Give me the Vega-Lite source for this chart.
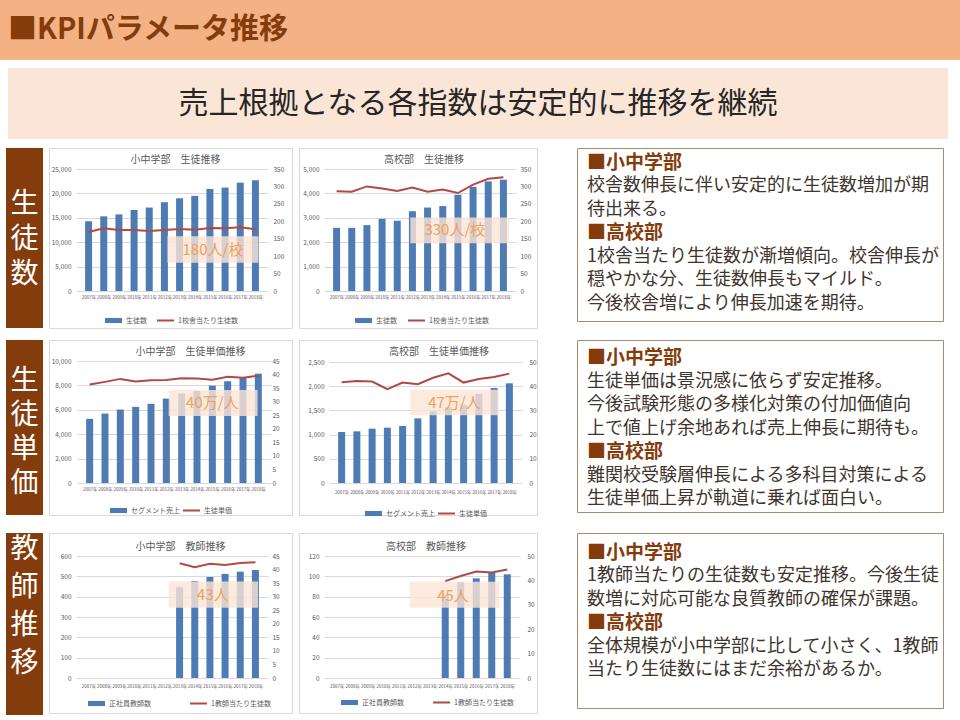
{
  "$schema": "https://vega.github.io/schema/vega-lite/v6.json",
  "padding": 0,
  "background": "white",
  "config": {
    "font": "Noto Sans CJK JP",
    "view": {"stroke": null},
    "axis": {"domain": false, "ticks": false, "labelColor": "#595959", "labelFontSize": 6.5, "labelPadding": 2, "gridColor": "#D9D9D9", "gridWidth": 1, "labelOverlap": false},
    "axisX": {"labelFontSize": 4.5, "labelPadding": 1, "labelOverlap": false, "labelFlush": false},
    "legend": {"padding": 0, "labelFontSize": 7, "labelColor": "#595959", "labelOffset": 3, "symbolSize": 289},
    "title": {"fontSize": 10, "fontWeight": "normal", "color": "#595959", "frame": "group", "baseline": "bottom", "anchor": "middle"}
  },
  "spacing": 10,
  "resolve": {"scale": {"fill": "independent", "stroke": "independent"}, "legend": {"fill": "independent", "stroke": "independent"}},
  "vconcat": [
    {
      "spacing": 8,
      "resolve": {"scale": {"fill": "independent", "stroke": "independent"}, "legend": {"fill": "independent", "stroke": "independent"}},
      "vconcat": [
        {
          "width": 960, "height": 60,
          "view": {"fill": "#F4B183", "stroke": null},
          "data": {"values": [{"t": "■KPIパラメータ推移"}]},
          "mark": {"type": "text", "align": "left", "baseline": "middle", "dx": 8, "fontSize": 29, "fontWeight": "bold", "color": "#843C0C"},
          "encoding": {"x": {"datum": 0, "type": "quantitative", "scale": {"domain": [0, 1]}, "axis": null}, "text": {"field": "t"}}
        },
        {
          "spacing": 7,
          "hconcat": [
            {"width": 1, "height": 1, "data": {"values": [{}]}, "mark": {"type": "point", "size": 0, "opacity": 0, "strokeWidth": 0}, "encoding": {}},
            {
              "width": 940, "height": 71,
              "view": {"fill": "#FBE5D6", "stroke": null},
              "data": {"values": [{"t": "売上根拠となる各指数は安定的に推移を継続"}]},
              "mark": {"type": "text", "fontSize": 30, "color": "#262626", "align": "center", "baseline": "middle"},
              "encoding": {"text": {"field": "t"}}
            }
          ]
        },
        {
          "spacing": 38,
          "resolve": {"scale": {"fill": "independent", "stroke": "independent"}, "legend": {"fill": "independent", "stroke": "independent"}},
          "hconcat": [
            {
              "spacing": 5,
              "resolve": {"scale": {"fill": "independent", "stroke": "independent"}, "legend": {"fill": "independent", "stroke": "independent"}},
              "hconcat": [
                {"width": 1, "height": 1, "data": {"values": [{}]}, "mark": {"type": "point", "size": 0, "opacity": 0, "strokeWidth": 0}, "encoding": {}},
                {
                  "width": 37, "height": 180,
                  "view": {"fill": "#843C0C", "stroke": null},
                  "data": {"values": [{"t": "生\n徒\n数"}]},
                  "mark": {"type": "text", "color": "#FFFFFF", "fontSize": 28, "lineBreak": "\n", "lineHeight": 35, "dy": -33, "align": "center", "baseline": "middle"},
                  "encoding": {"text": {"field": "t"}}
                },
                {
                  "width": 243, "height": 180,
                  "view": {"fill": "#FFFFFF", "stroke": "#D9D9D9"},
                  "title": {"text": "小中学部　生徒推移", "offset": -17, "dx": 5},
                  "data": {"values": [
                    {"year": 2007, "value": 14300, "line": 169},
                    {"year": 2008, "value": 15300, "line": 180},
                    {"year": 2009, "value": 15700, "line": 175},
                    {"year": 2010, "value": 16600, "line": 175},
                    {"year": 2011, "value": 17100, "line": 172},
                    {"year": 2012, "value": 18200, "line": 175},
                    {"year": 2013, "value": 19000, "line": 178},
                    {"year": 2014, "value": 19500, "line": 176},
                    {"year": 2015, "value": 20900, "line": 181},
                    {"year": 2016, "value": 21200, "line": 180},
                    {"year": 2017, "value": 22200, "line": 183},
                    {"year": 2018, "value": 22700, "line": 177}
                  ]},
                  "encoding": {
                    "x": {"field": "year", "type": "quantitative", "title": null, "scale": {"domain": [2006.5, 2018.5], "range": [27, 219], "nice": false, "zero": false},
                          "axis": {"values": [2007,2008,2009,2010,2011,2012,2013,2014,2015,2016,2017,2018], "labelExpr": "datum.value + '年'", "offset": -35, "grid": false, "title": null}}
                  },
                  "layer": [
                    {
                      "encoding": {
                        "y": {"field": "value", "type": "quantitative", "title": null, "scale": {"domain": [0, 25000], "range": [143, 21], "nice": false},
                              "axis": {"values": [0,5000,10000,15000,20000,25000], "labelExpr": "format(datum.value, ',')", "offset": -24, "grid": true, "title": null}}
                      },
                      "layer": [
                        {"mark": {"type": "bar", "size": 7, "orient": "vertical"},
                         "encoding": {"fill": {"datum": "生徒数", "scale": {"range": ["#4F7BB5"]}, "legend": {"orient": "none", "legendX": 55, "legendY": 163, "title": null, "symbolType": "M-1,-0.3H1V0.3H-1Z"}}}},
                        {"data": {"values": [{"year": 2012.2, "year2": 2018.2, "value": 5800, "value2": 11200}]},
                         "mark": {"type": "rect", "fill": "#FBE5D6", "opacity": 0.8},
                         "encoding": {"x2": {"field": "year2"}, "y2": {"field": "value2"}}},
                        {"data": {"values": [{"year": 2015.2, "value": 8400, "label": "180人/校"}]},
                         "mark": {"type": "text", "fontSize": 15, "color": "#F0A05A"},
                         "encoding": {"text": {"field": "label"}}}
                      ]
                    },
                    {"mark": {"type": "line", "strokeWidth": 2},
                     "encoding": {
                       "y": {"field": "line", "type": "quantitative", "title": null, "scale": {"domain": [0, 350], "range": [143, 21], "nice": false},
                             "axis": {"orient": "right", "values": [0,50,100,150,200,250,300,350], "offset": -21, "grid": false, "title": null}},
                       "stroke": {"datum": "1校舎当たり生徒数", "scale": {"range": ["#B04A45"]}, "legend": {"orient": "none", "legendX": 107, "legendY": 163, "title": null, "symbolType": "stroke", "symbolStrokeWidth": 2}}
                     }}
                  ],
                  "resolve": {"scale": {"y": "independent"}}
                },
                {
                  "width": 238, "height": 180,
                  "view": {"fill": "#FFFFFF", "stroke": "#D9D9D9"},
                  "title": {"text": "高校部　生徒推移", "offset": -17, "dx": 6},
                  "data": {"values": [
                    {"year": 2007, "value": 2590, "line": 286},
                    {"year": 2008, "value": 2590, "line": 285},
                    {"year": 2009, "value": 2700, "line": 300},
                    {"year": 2010, "value": 2960, "line": 294},
                    {"year": 2011, "value": 2880, "line": 287},
                    {"year": 2012, "value": 3270, "line": 297},
                    {"year": 2013, "value": 3420, "line": 285},
                    {"year": 2014, "value": 3480, "line": 291},
                    {"year": 2015, "value": 3945, "line": 281},
                    {"year": 2016, "value": 4270, "line": 305},
                    {"year": 2017, "value": 4490, "line": 322},
                    {"year": 2018, "value": 4560, "line": 326}
                  ]},
                  "encoding": {
                    "x": {"field": "year", "type": "quantitative", "title": null, "scale": {"domain": [2006.5, 2018.5], "range": [25, 217], "nice": false, "zero": false},
                          "axis": {"values": [2007,2008,2009,2010,2011,2012,2013,2014,2015,2016,2017,2018], "labelExpr": "datum.value + '年'", "offset": -35, "grid": false, "title": null}}
                  },
                  "layer": [
                    {
                      "encoding": {
                        "y": {"field": "value", "type": "quantitative", "title": null, "scale": {"domain": [0, 5000], "range": [143, 21], "nice": false},
                              "axis": {"values": [0,1000,2000,3000,4000,5000], "labelExpr": "format(datum.value, ',')", "offset": -22, "grid": true, "title": null}}
                      },
                      "layer": [
                        {"mark": {"type": "bar", "size": 7, "orient": "vertical"},
                         "encoding": {"fill": {"datum": "生徒数", "scale": {"range": ["#4F7BB5"]}, "legend": {"orient": "none", "legendX": 55, "legendY": 163, "title": null, "symbolType": "M-1,-0.3H1V0.3H-1Z"}}}},
                        {"data": {"values": [{"year": 2011.86, "year2": 2018.38, "value": 1960, "value2": 3010}]},
                         "mark": {"type": "rect", "fill": "#FBE5D6", "opacity": 0.8},
                         "encoding": {"x2": {"field": "year2"}, "y2": {"field": "value2"}}},
                        {"data": {"values": [{"year": 2014.8, "value": 2480, "label": "330人/校"}]},
                         "mark": {"type": "text", "fontSize": 15, "color": "#F0A05A"},
                         "encoding": {"text": {"field": "label"}}}
                      ]
                    },
                    {"mark": {"type": "line", "strokeWidth": 2},
                     "encoding": {
                       "y": {"field": "line", "type": "quantitative", "title": null, "scale": {"domain": [0, 350], "range": [143, 21], "nice": false},
                             "axis": {"orient": "right", "values": [0,50,100,150,200,250,300,350], "offset": -19, "grid": false, "title": null}},
                       "stroke": {"datum": "1校舎当たり生徒数", "scale": {"range": ["#B04A45"]}, "legend": {"orient": "none", "legendX": 108, "legendY": 163, "title": null, "symbolType": "stroke", "symbolStrokeWidth": 2}}
                     }}
                  ],
                  "resolve": {"scale": {"y": "independent"}}
                }
              ]
            },
            {
              "width": 366, "height": 173,
              "view": {"fill": "#FFFFFF", "stroke": "#A68B6D"},
              "data": {"values": [
                {"line": 0, "kind": "h", "text": "■小中学部"},
                {"line": 1, "kind": "b", "text": "校舎数伸長に伴い安定的に生徒数増加が期"},
                {"line": 2, "kind": "b", "text": "待出来る。"},
                {"line": 3, "kind": "h", "text": "■高校部"},
                {"line": 4, "kind": "b", "text": "1校舎当たり生徒数が漸増傾向。校舎伸長が"},
                {"line": 5, "kind": "b", "text": "穏やかな分、生徒数伸長もマイルド。"},
                {"line": 6, "kind": "b", "text": "今後校舎増により伸長加速を期待。"}
              ]},
              "encoding": {
                "x": {"datum": 0, "type": "quantitative", "scale": {"domain": [0, 1]}, "axis": null},
                "y": {"field": "line", "type": "quantitative", "scale": {"domain": [-0.638, 6.724], "reverse": true, "nice": false, "zero": false}, "axis": null},
                "text": {"field": "text"}
              },
              "layer": [
                {"transform": [{"filter": "datum.kind == 'h'"}], "mark": {"type": "text", "align": "left", "baseline": "middle", "dx": 10, "fontSize": 19, "fontWeight": "bold", "color": "#843C0C"}},
                {"transform": [{"filter": "datum.kind == 'b'"}], "mark": {"type": "text", "align": "left", "baseline": "middle", "dx": 10, "fontSize": 18, "color": "#40352C"}}
              ]
            }
          ]
        }
      ]
    },
    {
      "spacing": 13,
      "resolve": {"scale": {"fill": "independent", "stroke": "independent"}, "legend": {"fill": "independent", "stroke": "independent"}},
      "vconcat": [
        {
          "spacing": 38,
          "resolve": {"scale": {"fill": "independent", "stroke": "independent"}, "legend": {"fill": "independent", "stroke": "independent"}},
          "hconcat": [
            {
              "spacing": 5,
              "resolve": {"scale": {"fill": "independent", "stroke": "independent"}, "legend": {"fill": "independent", "stroke": "independent"}},
              "hconcat": [
                {"width": 1, "height": 1, "data": {"values": [{}]}, "mark": {"type": "point", "size": 0, "opacity": 0, "strokeWidth": 0}, "encoding": {}},
                {
                  "width": 37, "height": 175,
                  "view": {"fill": "#843C0C", "stroke": null},
                  "data": {"values": [{"t": "生\n徒\n単\n価"}]},
                  "mark": {"type": "text", "color": "#FFFFFF", "fontSize": 28, "lineBreak": "\n", "lineHeight": 34, "dy": -46, "align": "center", "baseline": "middle"},
                  "encoding": {"text": {"field": "t"}}
                },
                {
                  "width": 243, "height": 175,
                  "view": {"fill": "#FFFFFF", "stroke": "#D9D9D9"},
                  "title": {"text": "小中学部　生徒単価推移", "offset": -17, "dx": 20},
                  "data": {"values": [
                    {"year": 2007, "value": 5260, "line": 36.3},
                    {"year": 2008, "value": 5690, "line": 37.3},
                    {"year": 2009, "value": 6020, "line": 38.4},
                    {"year": 2010, "value": 6240, "line": 37.4},
                    {"year": 2011, "value": 6490, "line": 37.9},
                    {"year": 2012, "value": 6920, "line": 38.0},
                    {"year": 2013, "value": 7330, "line": 38.6},
                    {"year": 2014, "value": 7550, "line": 38.5},
                    {"year": 2015, "value": 7980, "line": 38.1},
                    {"year": 2016, "value": 8340, "line": 39.2},
                    {"year": 2017, "value": 8640, "line": 38.8},
                    {"year": 2018, "value": 8960, "line": 39.6}
                  ]},
                  "encoding": {
                    "x": {"field": "year", "type": "quantitative", "title": null, "scale": {"domain": [2006.5, 2018.5], "range": [28, 222], "nice": false, "zero": false},
                          "axis": {"values": [2007,2008,2009,2010,2011,2012,2013,2014,2015,2016,2017,2018], "labelExpr": "datum.value + '年'", "offset": -30, "grid": false, "title": null}}
                  },
                  "layer": [
                    {
                      "encoding": {
                        "y": {"field": "value", "type": "quantitative", "title": null, "scale": {"domain": [0, 10000], "range": [143, 21], "nice": false},
                              "axis": {"values": [0,2000,4000,6000,8000,10000], "labelExpr": "format(datum.value, ',')", "offset": -24, "grid": true, "title": null}}
                      },
                      "layer": [
                        {"mark": {"type": "bar", "size": 7, "orient": "vertical"},
                         "encoding": {"fill": {"datum": "セグメント売上", "scale": {"range": ["#4F7BB5"]}, "legend": {"orient": "none", "legendX": 60, "legendY": 161, "title": null, "symbolType": "M-1,-0.3H1V0.3H-1Z"}}}},
                        {"data": {"values": [{"year": 2012.15, "year2": 2017.95, "value": 5500, "value2": 7630}]},
                         "mark": {"type": "rect", "fill": "#FBE5D6", "opacity": 0.8},
                         "encoding": {"x2": {"field": "year2"}, "y2": {"field": "value2"}}},
                        {"data": {"values": [{"year": 2015.0, "value": 6550, "label": "40万/人"}]},
                         "mark": {"type": "text", "fontSize": 15, "color": "#F0A05A"},
                         "encoding": {"text": {"field": "label"}}}
                      ]
                    },
                    {"mark": {"type": "line", "strokeWidth": 2},
                     "encoding": {
                       "y": {"field": "line", "type": "quantitative", "title": null, "scale": {"domain": [0, 45], "range": [143, 21], "nice": false},
                             "axis": {"orient": "right", "values": [0,5,10,15,20,25,30,35,40,45], "offset": -22, "grid": false, "title": null}},
                       "stroke": {"datum": "生徒単価", "scale": {"range": ["#B04A45"]}, "legend": {"orient": "none", "legendX": 133, "legendY": 161, "title": null, "symbolType": "stroke", "symbolStrokeWidth": 2}}
                     }}
                  ],
                  "resolve": {"scale": {"y": "independent"}}
                },
                {
                  "width": 238, "height": 175,
                  "view": {"fill": "#FFFFFF", "stroke": "#D9D9D9"},
                  "title": {"text": "高校部　生徒単価推移", "offset": -17, "dx": 21},
                  "data": {"values": [
                    {"year": 2007, "value": 1054, "line": 41.6},
                    {"year": 2008, "value": 1067, "line": 42.1},
                    {"year": 2009, "value": 1123, "line": 41.9},
                    {"year": 2010, "value": 1143, "line": 38.8},
                    {"year": 2011, "value": 1178, "line": 41.5},
                    {"year": 2012, "value": 1336, "line": 40.8},
                    {"year": 2013, "value": 1481, "line": 43.5},
                    {"year": 2014, "value": 1563, "line": 45.3},
                    {"year": 2015, "value": 1618, "line": 41.5},
                    {"year": 2016, "value": 1839, "line": 43.0},
                    {"year": 2017, "value": 1963, "line": 43.8},
                    {"year": 2018, "value": 2059, "line": 45.2}
                  ]},
                  "encoding": {
                    "x": {"field": "year", "type": "quantitative", "title": null, "scale": {"domain": [2006.5, 2018.5], "range": [30, 223], "nice": false, "zero": false},
                          "axis": {"values": [2007,2008,2009,2010,2011,2012,2013,2014,2015,2016,2017,2018], "labelExpr": "datum.value + '年'", "offset": -27, "grid": false, "title": null}}
                  },
                  "layer": [
                    {
                      "encoding": {
                        "y": {"field": "value", "type": "quantitative", "title": null, "scale": {"domain": [0, 2500], "range": [143, 22], "nice": false},
                              "axis": {"values": [0,500,1000,1500,2000,2500], "labelExpr": "format(datum.value, ',')", "offset": -27, "grid": true, "title": null}}
                      },
                      "layer": [
                        {"mark": {"type": "bar", "size": 7, "orient": "vertical"},
                         "encoding": {"fill": {"datum": "セグメント売上", "scale": {"range": ["#4F7BB5"]}, "legend": {"orient": "none", "legendX": 65, "legendY": 164, "title": null, "symbolType": "M-1,-0.3H1V0.3H-1Z"}}}},
                        {"data": {"values": [{"year": 2011.5, "year2": 2017.3, "value": 1398, "value2": 1928}]},
                         "mark": {"type": "rect", "fill": "#FBE5D6", "opacity": 0.8},
                         "encoding": {"x2": {"field": "year2"}, "y2": {"field": "value2"}}},
                        {"data": {"values": [{"year": 2014.4, "value": 1660, "label": "47万/人"}]},
                         "mark": {"type": "text", "fontSize": 15, "color": "#F0A05A"},
                         "encoding": {"text": {"field": "label"}}}
                      ]
                    },
                    {"mark": {"type": "line", "strokeWidth": 2},
                     "encoding": {
                       "y": {"field": "line", "type": "quantitative", "title": null, "scale": {"domain": [0, 50], "range": [143, 22], "nice": false},
                             "axis": {"orient": "right", "values": [0,10,20,30,40,50], "offset": -10, "grid": false, "title": null}},
                       "stroke": {"datum": "生徒単価", "scale": {"range": ["#B04A45"]}, "legend": {"orient": "none", "legendX": 138, "legendY": 164, "title": null, "symbolType": "stroke", "symbolStrokeWidth": 2}}
                     }}
                  ],
                  "resolve": {"scale": {"y": "independent"}}
                }
              ]
            },
            {
              "width": 366, "height": 172,
              "view": {"fill": "#FFFFFF", "stroke": "#A68B6D"},
              "data": {"values": [
                {"line": 0, "kind": "h", "text": "■小中学部"},
                {"line": 1, "kind": "b", "text": "生徒単価は景況感に依らず安定推移。"},
                {"line": 2, "kind": "b", "text": "今後試験形態の多様化対策の付加価値向"},
                {"line": 3, "kind": "b", "text": "上で値上げ余地あれば売上伸長に期待も。"},
                {"line": 4, "kind": "h", "text": "■高校部"},
                {"line": 5, "kind": "b", "text": "難関校受験層伸長による多科目対策による"},
                {"line": 6, "kind": "b", "text": "生徒単価上昇が軌道に乗れば面白い。"}
              ]},
              "encoding": {
                "x": {"datum": 0, "type": "quantitative", "scale": {"domain": [0, 1]}, "axis": null},
                "y": {"field": "line", "type": "quantitative", "scale": {"domain": [-0.766, 6.553], "reverse": true, "nice": false, "zero": false}, "axis": null},
                "text": {"field": "text"}
              },
              "layer": [
                {"transform": [{"filter": "datum.kind == 'h'"}], "mark": {"type": "text", "align": "left", "baseline": "middle", "dx": 10, "fontSize": 19, "fontWeight": "bold", "color": "#843C0C"}},
                {"transform": [{"filter": "datum.kind == 'b'"}], "mark": {"type": "text", "align": "left", "baseline": "middle", "dx": 10, "fontSize": 18, "color": "#40352C"}}
              ]
            }
          ]
        },
        {
          "spacing": 38,
          "resolve": {"scale": {"fill": "independent", "stroke": "independent"}, "legend": {"fill": "independent", "stroke": "independent"}},
          "hconcat": [
            {
              "spacing": 5,
              "resolve": {"scale": {"fill": "independent", "stroke": "independent"}, "legend": {"fill": "independent", "stroke": "independent"}},
              "hconcat": [
                {"width": 1, "height": 1, "data": {"values": [{}]}, "mark": {"type": "point", "size": 0, "opacity": 0, "strokeWidth": 0}, "encoding": {}},
                {
                  "width": 37, "height": 182,
                  "view": {"fill": "#843C0C", "stroke": null},
                  "data": {"values": [{"t": "教\n師\n推\n移"}]},
                  "mark": {"type": "text", "color": "#FFFFFF", "fontSize": 28, "lineBreak": "\n", "lineHeight": 38, "dy": -74, "align": "center", "baseline": "middle"},
                  "encoding": {"text": {"field": "t"}}
                },
                {
                  "width": 243, "height": 180,
                  "view": {"fill": "#FFFFFF", "stroke": "#D9D9D9"},
                  "title": {"text": "小中学部　教師推移", "offset": -19, "dx": 10},
                  "data": {"values": [
                    {"year": 2013, "value": 447, "line": 42.3},
                    {"year": 2014, "value": 477, "line": 40.9},
                    {"year": 2015, "value": 497, "line": 42.1},
                    {"year": 2016, "value": 512, "line": 41.7},
                    {"year": 2017, "value": 523, "line": 42.4},
                    {"year": 2018, "value": 531, "line": 42.7}
                  ]},
                  "encoding": {
                    "x": {"field": "year", "type": "quantitative", "title": null, "scale": {"domain": [2006.5, 2018.5], "range": [27, 219], "nice": false, "zero": false},
                          "axis": {"values": [2007,2008,2009,2010,2011,2012,2013,2014,2015,2016,2017,2018], "labelExpr": "datum.value + '年'", "offset": -31, "grid": false, "title": null}}
                  },
                  "layer": [
                    {
                      "encoding": {
                        "y": {"field": "value", "type": "quantitative", "title": null, "scale": {"domain": [0, 600], "range": [145, 23], "nice": false},
                              "axis": {"values": [0,100,200,300,400,500,600], "labelExpr": "format(datum.value, ',')", "offset": -24, "grid": true, "title": null}}
                      },
                      "layer": [
                        {"mark": {"type": "bar", "size": 7, "orient": "vertical"},
                         "encoding": {"fill": {"datum": "正社員教師数", "scale": {"range": ["#4F7BB5"]}, "legend": {"orient": "none", "legendX": 38, "legendY": 161, "title": null, "symbolType": "M-1,-0.3H1V0.3H-1Z"}}}},
                        {"data": {"values": [{"year": 2012.28, "year2": 2018.17, "value": 345, "value2": 474}]},
                         "mark": {"type": "rect", "fill": "#FBE5D6", "opacity": 0.8},
                         "encoding": {"x2": {"field": "year2"}, "y2": {"field": "value2"}}},
                        {"data": {"values": [{"year": 2015.2, "value": 408, "label": "43人"}]},
                         "mark": {"type": "text", "fontSize": 15, "color": "#F0A05A"},
                         "encoding": {"text": {"field": "label"}}}
                      ]
                    },
                    {"mark": {"type": "line", "strokeWidth": 2},
                     "encoding": {
                       "y": {"field": "line", "type": "quantitative", "title": null, "scale": {"domain": [0, 45], "range": [145, 23], "nice": false},
                             "axis": {"orient": "right", "values": [0,5,10,15,20,25,30,35,40,45], "offset": -22, "grid": false, "title": null}},
                       "stroke": {"datum": "1教師当たり生徒数", "scale": {"range": ["#B04A45"]}, "legend": {"orient": "none", "legendX": 140, "legendY": 161, "title": null, "symbolType": "stroke", "symbolStrokeWidth": 2}}
                     }}
                  ],
                  "resolve": {"scale": {"y": "independent"}}
                },
                {
                  "width": 238, "height": 180,
                  "view": {"fill": "#FFFFFF", "stroke": "#D9D9D9"},
                  "title": {"text": "高校部　教師推移", "offset": -19, "dx": 8},
                  "data": {"values": [
                    {"year": 2014, "value": 82, "line": 39.7},
                    {"year": 2015, "value": 94, "line": 41.8},
                    {"year": 2016, "value": 98, "line": 43.6},
                    {"year": 2017, "value": 104, "line": 43.2},
                    {"year": 2018, "value": 102, "line": 44.5}
                  ]},
                  "encoding": {
                    "x": {"field": "year", "type": "quantitative", "title": null, "scale": {"domain": [2006.5, 2018.5], "range": [25, 221], "nice": false, "zero": false},
                          "axis": {"values": [2007,2008,2009,2010,2011,2012,2013,2014,2015,2016,2017,2018], "labelExpr": "datum.value + '年'", "offset": -31, "grid": false, "title": null}}
                  },
                  "layer": [
                    {
                      "encoding": {
                        "y": {"field": "value", "type": "quantitative", "title": null, "scale": {"domain": [0, 120], "range": [145, 23], "nice": false},
                              "axis": {"values": [0,20,40,60,80,100,120], "labelExpr": "format(datum.value, ',')", "offset": -22, "grid": true, "title": null}}
                      },
                      "layer": [
                        {"mark": {"type": "bar", "size": 7, "orient": "vertical"},
                         "encoding": {"fill": {"datum": "正社員教師数", "scale": {"range": ["#4F7BB5"]}, "legend": {"orient": "none", "legendX": 41, "legendY": 160, "title": null, "symbolType": "M-1,-0.3H1V0.3H-1Z"}}}},
                        {"data": {"values": [{"year": 2011.7, "year2": 2017.5, "value": 69, "value2": 94.7}]},
                         "mark": {"type": "rect", "fill": "#FBE5D6", "opacity": 0.8},
                         "encoding": {"x2": {"field": "year2"}, "y2": {"field": "value2"}}},
                        {"data": {"values": [{"year": 2014.5, "value": 81, "label": "45人"}]},
                         "mark": {"type": "text", "fontSize": 15, "color": "#F0A05A"},
                         "encoding": {"text": {"field": "label"}}}
                      ]
                    },
                    {"mark": {"type": "line", "strokeWidth": 2},
                     "encoding": {
                       "y": {"field": "line", "type": "quantitative", "title": null, "scale": {"domain": [0, 50], "range": [145, 23], "nice": false},
                             "axis": {"orient": "right", "values": [0,10,20,30,40,50], "offset": -12, "grid": false, "title": null}},
                       "stroke": {"datum": "1教師当たり生徒数", "scale": {"range": ["#B04A45"]}, "legend": {"orient": "none", "legendX": 133, "legendY": 160, "title": null, "symbolType": "stroke", "symbolStrokeWidth": 2}}
                     }}
                  ],
                  "resolve": {"scale": {"y": "independent"}}
                }
              ]
            },
            {
              "width": 366, "height": 175,
              "view": {"fill": "#FFFFFF", "stroke": "#A68B6D"},
              "data": {"values": [
                {"line": 0, "kind": "h", "text": "■小中学部"},
                {"line": 1, "kind": "b", "text": "1教師当たりの生徒数も安定推移。今後生徒"},
                {"line": 2, "kind": "b", "text": "数増に対応可能な良質教師の確保が課題。"},
                {"line": 3, "kind": "h", "text": "■高校部"},
                {"line": 4, "kind": "b", "text": "全体規模が小中学部に比して小さく、1教師"},
                {"line": 5, "kind": "b", "text": "当たり生徒数にはまだ余裕があるか。"}
              ]},
              "encoding": {
                "x": {"datum": 0, "type": "quantitative", "scale": {"domain": [0, 1]}, "axis": null},
                "y": {"field": "line", "type": "quantitative", "scale": {"domain": [-0.851, 6.596], "reverse": true, "nice": false, "zero": false}, "axis": null},
                "text": {"field": "text"}
              },
              "layer": [
                {"transform": [{"filter": "datum.kind == 'h'"}], "mark": {"type": "text", "align": "left", "baseline": "middle", "dx": 10, "fontSize": 19, "fontWeight": "bold", "color": "#843C0C"}},
                {"transform": [{"filter": "datum.kind == 'b'"}], "mark": {"type": "text", "align": "left", "baseline": "middle", "dx": 10, "fontSize": 18, "color": "#40352C"}}
              ]
            }
          ]
        }
      ]
    }
  ]
}
